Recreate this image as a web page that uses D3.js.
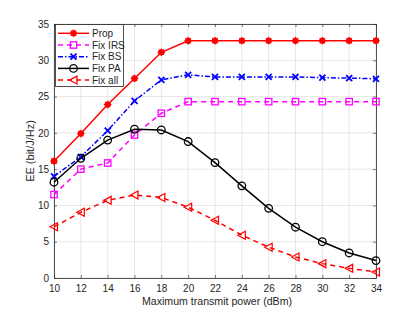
<!DOCTYPE html>
<html><head><meta charset="utf-8">
<script src="https://cdn.jsdelivr.net/npm/d3@7"></script>
<style>body{margin:0;background:#fff}svg{display:block}text{font-family:"Liberation Sans",Arial,sans-serif}</style>
</head><body>
<script>
const xValues = [10,12,14,16,18,20,22,24,26,28,30,32,34];
const prop   = [16.1,19.9,23.9,27.5,31.1,32.7,32.7,32.7,32.7,32.7,32.7,32.7,32.7];
const fixIRS = [11.5,15.0,15.85,19.7,22.7,24.3,24.3,24.3,24.3,24.3,24.3,24.3,24.3];
const fixBS  = [14.0,16.7,20.3,24.4,27.3,28.0,27.7,27.7,27.7,27.7,27.6,27.55,27.45];
const fixPA  = [13.2,16.5,19.0,20.5,20.4,18.8,15.9,12.7,9.6,7.0,5.0,3.45,2.4];
const fixAll = [7.05,9.05,10.7,11.45,11.1,9.75,7.95,5.9,4.25,2.9,1.98,1.33,0.83];
const seriesNames = ["Prop","Fix IRS","Fix BS","Fix PA","Fix all"];
const xTicks = [10,12,14,16,18,20,22,24,26,28,30,32,34];
const yTicks = [0,5,10,15,20,25,30,35];

const W=415,H=312, m={l:54,r:39,t:24,b:34};
const svg=d3.select("body").append("svg").attr("width",W).attr("height",H);
const x=d3.scaleLinear().domain([10,34]).range([m.l,W-m.r]);
const y=d3.scaleLinear().domain([0,35]).range([H-m.b,m.t]);

// grid
const g=svg.append("g");
g.selectAll(".gx").data(xTicks).join("line").attr("x1",d=>x(d)).attr("x2",d=>x(d)).attr("y1",m.t).attr("y2",H-m.b).attr("stroke","#e6e6e6").attr("stroke-width",1);
g.selectAll(".gy").data(yTicks).join("line").attr("y1",d=>y(d)).attr("y2",d=>y(d)).attr("x1",m.l).attr("x2",W-m.r).attr("stroke","#e6e6e6").attr("stroke-width",1);

// axes
function styleAx(sel){sel.select(".domain").attr("stroke","#262626").attr("stroke-width",0.8);sel.selectAll(".tick line").attr("stroke","#262626").attr("stroke-width",0.6);sel.selectAll("text").attr("fill","#262626").attr("font-size",10).attr("font-family","'Liberation Sans',Arial,sans-serif");}
const xb=svg.append("g").attr("transform",`translate(0,${H-m.b})`).call(d3.axisBottom(x).tickValues(xTicks).tickSize(-3).tickPadding(7).tickSizeOuter(0));
styleAx(xb);
const xt=svg.append("g").attr("transform",`translate(0,${m.t})`).call(d3.axisTop(x).tickValues(xTicks).tickSize(-3).tickFormat("").tickSizeOuter(0));
styleAx(xt);
const yl=svg.append("g").attr("transform",`translate(${m.l},0)`).call(d3.axisLeft(y).tickValues(yTicks).tickSize(-3).tickPadding(5).tickSizeOuter(0));
styleAx(yl);
const yr=svg.append("g").attr("transform",`translate(${W-m.r},0)`).call(d3.axisRight(y).tickValues(yTicks).tickSize(-3).tickFormat("").tickSizeOuter(0));
styleAx(yr);

svg.append("text").attr("x",x(22)+2).attr("y",H-7).attr("text-anchor","middle").attr("font-size",10.6).attr("fill","#262626").text("Maximum transmit power (dBm)");
svg.append("text").attr("transform",`translate(34,${y(17.5)}) rotate(-90)`).attr("text-anchor","middle").attr("font-size",11).attr("fill","#262626").text("EE (bit/J/Hz)");

const series=[
 {name:seriesNames[0],vals:prop,color:"#ff0000",dash:null,marker:"star"},
 {name:seriesNames[1],vals:fixIRS,color:"#ff00ff",dash:"5,4",marker:"square"},
 {name:seriesNames[2],vals:fixBS,color:"#0000ff",dash:"5,2,1.5,2",marker:"x"},
 {name:seriesNames[3],vals:fixPA,color:"#000000",dash:null,marker:"circle"},
 {name:seriesNames[4],vals:fixAll,color:"#ff0000",dash:"5,4",marker:"tri"}
];
function drawMarker(sel,type,color){
 if(type==="star"){
  sel.append("circle").attr("r",2.8).attr("fill",color).attr("stroke",color).attr("stroke-width",1);
  [0,45,90,135].forEach(a=>sel.append("line").attr("x1",-3.8).attr("x2",3.8).attr("transform",`rotate(${a})`).attr("stroke",color).attr("stroke-width",1));
 } else if(type==="square"){
  sel.append("rect").attr("x",-3.2).attr("y",-3.2).attr("width",6.4).attr("height",6.4).attr("fill","none").attr("stroke",color).attr("stroke-width",1.3);
 } else if(type==="x"){
  sel.append("path").attr("d","M-3,-3L3,3M-3,3L3,-3").attr("stroke",color).attr("stroke-width",1.8);
 } else if(type==="circle"){
  sel.append("circle").attr("r",3.8).attr("fill","none").attr("stroke",color).attr("stroke-width",1.3);
 } else if(type==="tri"){
  sel.append("path").attr("d","M-4,0L3.5,-4L3.5,4Z").attr("fill","none").attr("stroke",color).attr("stroke-width",1.2);
 }
}
const line=d3.line().x((d,i)=>x(xValues[i])).y(d=>y(d));
series.forEach(s=>{
 svg.append("path").attr("d",line(s.vals)).attr("fill","none").attr("stroke",s.color).attr("stroke-width",1.5).attr("stroke-dasharray",s.dash);
 s.vals.forEach((v,i)=>{const mg=svg.append("g").attr("transform",`translate(${x(xValues[i])},${y(v)})`);drawMarker(mg,s.marker,s.color);});
});

// legend
const lg=svg.append("g");
lg.append("rect").attr("x",55.5).attr("y",24.5).attr("width",68).attr("height",62).attr("fill","#fff").attr("stroke","#262626").attr("stroke-width",0.8);
series.forEach((s,i)=>{
 const yy=33.3+i*11.7;
 lg.append("line").attr("x1",58).attr("x2",89).attr("y1",yy).attr("y2",yy).attr("stroke",s.color).attr("stroke-width",1.5).attr("stroke-dasharray",s.dash);
 const mg=lg.append("g").attr("transform",`translate(73.5,${yy})`);drawMarker(mg,s.marker,s.color);
 lg.append("text").attr("x",92).attr("y",yy+3.5).attr("font-size",10).attr("fill","#262626").text(s.name);
});
</script>
</body></html>
